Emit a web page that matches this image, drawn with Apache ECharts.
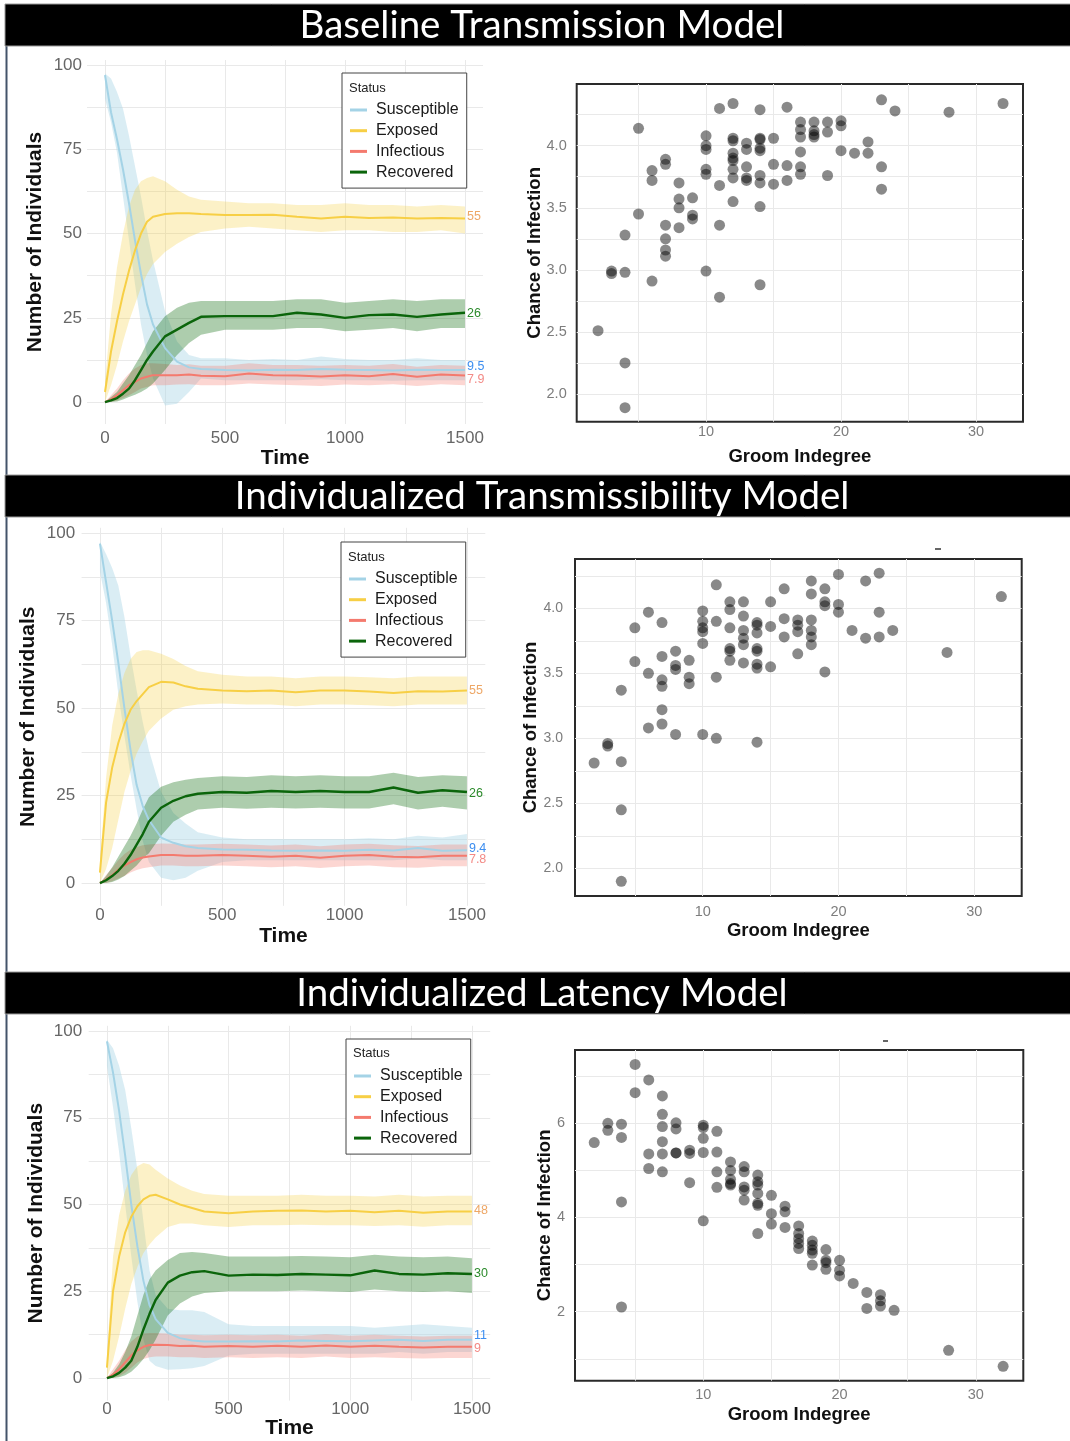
<!DOCTYPE html>
<html>
<head>
<meta charset="utf-8">
<title>Transmission models</title>
<script src="https://cdn.jsdelivr.net/npm/echarts@6/dist/echarts.min.js"></script>
<style>
  html, body { margin: 0; padding: 0; background: #fff; }
  #chart { width: 1070px; height: 1441px; }
</style>
</head>
<body>
<div id="chart"></div>
<script>
// ---- data ----
const modelTitles = ['Baseline Transmission Model', 'Individualized Transmissibility Model', 'Individualized Latency Model'];
const statusNames = ['Susceptible', 'Exposed', 'Infectious', 'Recovered'];

const times = [0, 25, 50, 75, 100, 125, 150, 175, 200, 250, 300, 350, 400, 500, 600, 700, 800, 900, 1000, 1100, 1200, 1300, 1400, 1500];
const timeTicks = [0, 500, 1000, 1500];
const countTicks = [0, 25, 50, 75, 100];

// baseline model
const s1 = [97, 86, 78, 69, 59, 48, 38, 29, 23, 16, 12, 10.3, 9.8, 9.5, 9.4, 9.6, 9.5, 9.8, 9.6, 9.5, 9.4, 9.6, 9.5, 9.5];
const s1Hi = [97.5, 96, 92, 87, 79, 70, 61, 51, 42, 27, 18, 14, 13, 13, 12.5, 12.8, 12.5, 13.5, 12.8, 12.5, 12.5, 13, 12.5, 12.5];
const s1Lo = [90, 83, 74, 61, 48, 35, 23, 14, 7, -1, -0.5, 3, 7, 6.5, 6.5, 6.5, 6.5, 6.8, 6.5, 6.5, 6.3, 6.5, 6.5, 6.5];
const e1 = [3, 15, 24, 32, 39, 45, 50, 53.5, 55, 55.8, 56, 56, 55.8, 55.5, 55.5, 55.6, 55, 54.5, 55, 54.6, 54.8, 54.5, 54.6, 54.5];
const e1Hi = [6, 26, 40, 50, 58, 63, 65.5, 66.5, 67, 65.5, 63, 61, 60, 59.5, 59, 59, 58.5, 58.5, 59, 58.5, 58.5, 58, 58.5, 58];
const e1Lo = [0, 5, 11, 18, 24, 29, 34, 38, 41, 44.5, 47, 49, 50.5, 51.5, 52, 51.5, 51, 50.5, 51, 51, 50.5, 50.5, 51, 50];
const i1 = [0, 0.8, 2, 3.5, 5, 6, 7, 7.5, 8, 8, 8, 8.2, 7.8, 7.7, 8.5, 8, 7.9, 7.6, 8, 7.7, 8.3, 7.5, 8.2, 7.9];
const i1Hi = [0, 2, 4, 6.5, 8.5, 10, 11, 11.5, 11.5, 11.3, 11, 11.2, 10.8, 10.8, 11.5, 11, 11, 10.8, 11, 10.8, 11.3, 10.5, 11, 10.8];
const i1Lo = [0, 0, 0.5, 1.2, 2, 3, 4, 4.5, 5, 5, 5.2, 5.3, 5, 5, 5.5, 5.2, 5, 4.8, 5.2, 5, 5.3, 4.8, 5.3, 5];
const r1 = [0, 0.5, 1.2, 2.5, 4, 6.5, 9.5, 12.5, 15, 19.5, 21.5, 23.5, 25.3, 25.5, 25.5, 25.5, 26.5, 26, 25, 25.8, 26, 25.3, 26, 26.5];
const r1Hi = [0, 1.5, 3, 5.5, 8, 11, 14, 17.5, 21, 25.5, 28, 29.5, 30, 30, 30, 30, 30.5, 30.5, 29.5, 30, 30.5, 30, 30.5, 30.5];
const r1Lo = [0, 0, 0.2, 0.8, 1.5, 2.2, 3, 4, 5.5, 9.5, 14, 17.5, 20, 21.5, 21.5, 21.5, 22, 22, 21, 21.5, 22, 21, 22, 22];
const endText1 = ['9.5', '55', '7.9', '26'];

// individualized transmissibility model
const s2 = [97, 86, 75, 63, 50, 38, 28, 22, 18, 13, 11.5, 10.5, 10, 9.6, 9.5, 9.3, 9.2, 9.3, 9.2, 9.5, 9.3, 10, 9.2, 9.4];
const s2Hi = [97.5, 94, 90, 85, 76, 65, 55, 46, 38, 26, 20, 17, 14.5, 13, 12.5, 12.5, 12.5, 12.5, 12.5, 12.8, 12.5, 13.5, 13, 14];
const s2Lo = [89, 80, 68, 54, 42, 31, 21, 12, 6, 1.5, 0.8, 1.5, 3.5, 6, 6.5, 6.5, 6.5, 6.5, 6.5, 6.5, 6.5, 7, 6.5, 6.5];
const e2 = [3, 23, 33, 40, 45.5, 49.5, 52, 54, 56, 57.5, 57.3, 56.2, 55.5, 55, 54.8, 55, 54.5, 55, 55, 54.7, 54.3, 54.8, 54.7, 55];
const e2Hi = [6, 30, 45, 54, 60, 64, 66, 66.5, 66.5, 65.5, 64, 62, 60.5, 59.5, 59, 59, 58.5, 59, 59, 58.8, 58.5, 59, 59, 59];
const e2Lo = [0, 4, 10, 18, 26, 32, 37, 40.5, 43.5, 47, 49.5, 50.5, 51, 51.3, 51, 51, 50.5, 51, 51, 50.8, 50.5, 51, 51, 51];
const i2 = [0, 1, 2.2, 3.8, 5, 6, 6.8, 7.3, 7.6, 8, 8, 7.8, 7.8, 8, 7.8, 7.5, 7.8, 7.2, 7.8, 8, 7.5, 7.4, 7.8, 7.8];
const i2Hi = [0, 2.3, 4.3, 6.5, 8.3, 9.5, 10.3, 10.8, 11, 11.3, 11.2, 11, 11, 11.2, 11, 10.7, 11, 10.5, 11, 11.2, 10.8, 10.6, 11, 11];
const i2Lo = [0, 0, 0.5, 1.3, 2, 3, 3.7, 4.2, 4.5, 5, 5, 4.8, 4.8, 5, 4.8, 4.5, 4.8, 4.3, 4.8, 5, 4.5, 4.4, 4.8, 4.8];
const r2 = [0, 0.8, 2, 3.5, 5.5, 8, 11, 14, 17.5, 21.5, 23.5, 24.8, 25.5, 26, 25.8, 26.3, 26, 26.3, 26, 26, 27.3, 25.8, 26.5, 26];
const r2Hi = [0, 2, 4.5, 7.5, 10.5, 13.5, 17, 21, 24.5, 27.5, 28.8, 29.5, 30, 30.5, 30.3, 30.8, 30.5, 30.8, 30.5, 30.5, 31.5, 30.3, 30.8, 30.5];
const r2Lo = [0, 0, 0.3, 1, 2, 3.5, 5, 7, 8.5, 13.5, 17.5, 19.5, 21, 21.5, 21.2, 21.5, 21.3, 21.5, 21.3, 21.3, 22.5, 21, 21.8, 21];
const endText2 = ['9.4', '55', '7.8', '26'];

// individualized latency model
const s3 = [97, 88, 77, 64, 50, 38, 28, 21, 17, 13, 11.5, 10.8, 10.5, 10.5, 10.6, 10.5, 10.8, 10.7, 10.6, 10.8, 11, 10.7, 11, 11];
const s3Hi = [97.5, 95, 90, 83, 72, 60, 45, 31, 24, 20, 19.5, 19.5, 19, 15.5, 15, 15, 15, 15, 15, 14.5, 15, 15.5, 15, 14.5];
const s3Lo = [90, 78, 65, 50, 35, 22, 11, 5, 3.5, 2.4, 2.5, 2.8, 3.5, 6.5, 7, 7, 7, 7, 7, 7, 7.5, 7, 7.5, 7.5];
const e3 = [3, 25, 35, 42, 46.5, 49.5, 51.5, 52.5, 52.8, 51.5, 50, 49, 48, 47.5, 48, 48.2, 48.3, 48, 48.2, 47.8, 48.2, 47.6, 48, 48];
const e3Hi = [6, 35, 47, 54, 58.5, 61, 62, 61.5, 60, 57.5, 55.5, 54, 53, 52.5, 52.5, 52.5, 52.8, 52.5, 52.5, 52.3, 52.8, 52.3, 52.5, 52.5];
const e3Lo = [0, 5, 12, 20, 27, 32, 36, 38.5, 40.5, 43.5, 44.5, 44.5, 44, 43.5, 44, 44, 44.2, 44, 44, 43.8, 44, 43.6, 44, 44];
const i3 = [0, 1, 2.5, 4.5, 6.5, 8, 9, 9.5, 9.6, 9.5, 9.2, 9.3, 9, 9.2, 9, 9.3, 9, 9.4, 9, 9.3, 9, 8.8, 9, 9];
const i3Hi = [0, 2.5, 5, 8, 10.5, 12, 12.8, 13, 13, 12.8, 12.5, 12.5, 12.3, 12.5, 12.3, 12.5, 12.2, 12.6, 12.2, 12.5, 12.2, 12, 12.2, 12.2];
const i3Lo = [0, 0, 0.5, 1.5, 3, 4.5, 5.5, 6, 6.2, 6.2, 6, 6, 5.8, 6, 5.8, 6, 5.8, 6.2, 5.8, 6, 5.8, 5.6, 5.8, 5.8];
const r3 = [0, 0.5, 1.5, 3, 5, 9, 14, 18.5, 22.5, 27.5, 29.5, 30.5, 30.8, 29.5, 29.8, 29.7, 30, 29.8, 29.6, 31, 30, 29.8, 30.2, 30];
const r3Hi = [0, 1.5, 4, 7.5, 12, 18, 24, 28.5, 31, 34, 36, 36.3, 36, 35, 35, 35, 35.2, 35, 34.8, 35.5, 35, 34.8, 35, 34.5];
const r3Lo = [0, 0, 0.2, 0.8, 1.8, 3.5, 5.5, 8, 11, 18, 21.5, 23.5, 24.5, 25, 25, 25, 25.2, 25, 24.8, 25.5, 25, 24.8, 25, 24.5];
const endText3 = ['11', '48', '9', '30'];

// groom indegree vs chance of infection
const groom1 = [2, 4, 4, 3, 3, 4, 4, 5, 5, 6, 6, 6, 7, 7, 7, 7, 7, 7, 8, 8, 8, 8, 9, 9, 9, 10, 10, 10, 10, 10, 10, 11, 11, 11, 11, 12, 12, 12, 12, 12, 12, 12, 12, 12, 13, 13, 13, 13, 13, 14, 14, 14, 14, 14, 14, 14, 14, 14, 15, 15, 15, 16, 16, 16, 17, 17, 17, 17, 17, 17, 18, 18, 18, 18, 19, 19, 19, 20, 20, 20, 21, 22, 22, 23, 23, 23, 24, 28, 32];
const chance1 = [2.51, 2.25, 1.89, 2.97, 2.99, 3.28, 2.98, 4.14, 3.45, 3.80, 3.72, 2.91, 3.89, 3.85, 3.36, 3.25, 3.16, 3.11, 3.70, 3.57, 3.50, 3.34, 3.58, 3.44, 3.41, 4.08, 4.00, 3.97, 3.81, 3.77, 2.99, 4.30, 3.68, 3.36, 2.78, 4.34, 4.06, 4.04, 3.94, 3.90, 3.88, 3.81, 3.74, 3.55, 4.02, 3.97, 3.83, 3.74, 3.72, 4.29, 4.06, 4.05, 3.98, 3.96, 3.76, 3.70, 3.51, 2.88, 4.06, 3.85, 3.69, 4.31, 3.84, 3.72, 4.19, 4.13, 4.07, 3.95, 3.83, 3.77, 4.19, 4.12, 4.09, 4.07, 4.19, 4.11, 3.76, 4.20, 4.16, 3.96, 3.94, 4.03, 3.94, 4.37, 3.83, 3.65, 4.28, 4.27, 4.34];
const groom2 = [2, 3, 3, 4, 4, 4, 4, 5, 5, 6, 6, 6, 7, 7, 7, 7, 7, 7, 8, 8, 8, 8, 9, 9, 9, 10, 10, 10, 10, 10, 10, 11, 11, 11, 11, 12, 12, 12, 12, 12, 12, 13, 13, 13, 13, 13, 13, 14, 14, 14, 14, 14, 14, 14, 14, 15, 15, 15, 16, 16, 16, 17, 17, 17, 17, 18, 18, 18, 18, 18, 18, 19, 19, 19, 19, 20, 20, 20, 21, 22, 22, 23, 23, 23, 24, 28, 32];
const chance2 = [2.81, 2.96, 2.94, 2.82, 2.45, 1.90, 3.37, 3.85, 3.59, 3.97, 3.50, 3.08, 3.89, 3.63, 3.45, 3.40, 3.22, 3.11, 3.67, 3.56, 3.53, 3.03, 3.60, 3.47, 3.42, 3.98, 3.90, 3.85, 3.82, 3.73, 3.03, 4.18, 3.90, 3.47, 3.00, 4.05, 3.99, 3.85, 3.69, 3.67, 3.60, 4.05, 3.94, 3.83, 3.77, 3.72, 3.58, 3.89, 3.87, 3.81, 3.69, 3.67, 3.57, 3.54, 2.97, 4.05, 3.86, 3.55, 4.15, 3.92, 3.78, 3.91, 3.87, 3.82, 3.65, 4.21, 4.11, 3.91, 3.83, 3.78, 3.72, 4.15, 4.05, 4.02, 3.51, 4.26, 4.03, 3.97, 3.83, 4.21, 3.77, 4.27, 3.97, 3.78, 3.83, 3.66, 4.09];
const groom3 = [2, 3, 3, 4, 4, 4, 4, 5, 5, 6, 6, 6, 7, 7, 7, 7, 7, 7, 8, 8, 8, 8, 9, 9, 9, 10, 10, 10, 10, 10, 11, 11, 11, 11, 12, 12, 12, 12, 12, 13, 13, 13, 13, 13, 14, 14, 14, 14, 14, 14, 14, 15, 15, 15, 16, 16, 16, 17, 17, 17, 17, 17, 18, 18, 18, 18, 18, 19, 19, 19, 19, 20, 20, 20, 21, 22, 22, 23, 23, 23, 24, 28, 32];
const chance3 = [5.59, 6.00, 5.85, 5.98, 5.70, 4.33, 2.10, 7.25, 6.65, 6.92, 5.35, 5.04, 6.58, 6.19, 5.93, 5.61, 5.35, 4.97, 6.01, 5.88, 5.37, 5.37, 5.43, 5.36, 4.74, 5.96, 5.91, 5.68, 5.38, 3.93, 5.83, 5.39, 4.97, 4.64, 5.18, 5.00, 4.81, 4.72, 4.69, 5.08, 4.97, 4.65, 4.58, 4.37, 4.90, 4.76, 4.69, 4.51, 4.30, 4.26, 3.66, 4.47, 4.08, 3.86, 4.24, 4.12, 3.79, 3.82, 3.66, 3.55, 3.45, 3.34, 3.50, 3.41, 3.31, 3.24, 2.99, 3.32, 3.09, 3.04, 2.90, 3.09, 2.88, 2.76, 2.60, 2.41, 2.07, 2.36, 2.23, 2.12, 2.03, 1.18, 0.84];
const groomTicks = [10, 20, 30];
const groomGrid = [5, 10, 15, 20, 25, 30];
const chanceTicks12 = [2.0, 2.5, 3.0, 3.5, 4.0];
const chanceGrid12 = [2.0, 2.25, 2.5, 2.75, 3.0, 3.25, 3.5, 3.75, 4.0, 4.25];
const chanceTicks3 = [2, 4, 6];
const chanceGrid3 = [1, 2, 3, 4, 5, 6, 7];

// ---- styling / layout ----
const lineColors = ['#a4d3e6', '#f7cf45', '#f47a6e', '#0b650b'];
const bandColors = ['rgba(173,216,230,0.45)', 'rgba(246,207,69,0.3)', 'rgba(244,118,107,0.3)', 'rgba(0,100,0,0.32)'];
const endColors = ['#3d8ef0', '#eea766', '#f38a86', '#2b8a2b'];
const axisFont = "'Liberation Sans', Arial, sans-serif";

const timeRows = [
  { left: 87, top: 60, width: 396, height: 364, yMin: -6.5, yMax: 101.5, xLabMargin: 6, yLabMargin: 5, xNameGap: 24, yNameGap: 41,
    legend: [342, 73], status: [349, 88], endDy: [-4, -2, 4, 1] },
  { left: 81.6, top: 527.8, width: 403.7, height: 378, yMin: -6.5, yMax: 101.5, xLabMargin: 1, yLabMargin: 6.5, xNameGap: 20, yNameGap: 43,
    legend: [341, 542], status: [348, 557], endDy: [-2, 0, 4, 1] },
  { left: 88.7, top: 1025.8, width: 401.5, height: 374.8, yMin: -6.5, yMax: 101.5, xLabMargin: 0, yLabMargin: 6.5, xNameGap: 17, yNameGap: 42,
    legend: [346, 1039], status: [353, 1053], endDy: [-4, -1, 2, 0] }
];
const scatterRows = [
  { left: 576.7, top: 84, width: 446.3, height: 337.7, xMin: 0.42, xMax: 33.48, yMin: 1.777, yMax: 4.497, xLabMargin: 3, yLabMargin: 10, yLabSize: 14.5, xNameGap: 26, yNameGap: 32.5 },
  { left: 575, top: 559, width: 446.7, height: 337, xMin: 0.59, xMax: 33.5, yMin: 1.787, yMax: 4.379, xLabMargin: 8, yLabMargin: 12, yLabSize: 14, xNameGap: 25, yNameGap: 35 },
  { left: 575, top: 1050, width: 448.3, height: 330.7, xMin: 0.59, xMax: 33.48, yMin: 0.535, yMax: 7.556, xLabMargin: 7, yLabMargin: 10, yLabSize: 14.5, xNameGap: 25, yNameGap: 21 }
];
const titleBars = [4, 475, 972];
const strayMarks = [[935, 549, 941], [883, 1041, 888]];

const timeData = [
  { mean: [s1, e1, i1, r1], lo: [s1Lo, e1Lo, i1Lo, r1Lo], hi: [s1Hi, e1Hi, i1Hi, r1Hi], ends: endText1 },
  { mean: [s2, e2, i2, r2], lo: [s2Lo, e2Lo, i2Lo, r2Lo], hi: [s2Hi, e2Hi, i2Hi, r2Hi], ends: endText2 },
  { mean: [s3, e3, i3, r3], lo: [s3Lo, e3Lo, i3Lo, r3Lo], hi: [s3Hi, e3Hi, i3Hi, r3Hi], ends: endText3 }
];
const scatterData = [
  { x: groom1, y: chance1, ticks: chanceTicks12, grid: chanceGrid12, digits: 1 },
  { x: groom2, y: chance2, ticks: chanceTicks12, grid: chanceGrid12, digits: 1 },
  { x: groom3, y: chance3, ticks: chanceTicks3, grid: chanceGrid3, digits: 0 }
];

const grids = [];
const xAxes = [];
const yAxes = [];
const series = [];
const legends = [];
const graphics = [];

function axis(gridIndex, min, max, labelVals, gridVals, o) {
  return {
    type: 'value', gridIndex, min, max,
    name: o.name, nameLocation: 'middle', nameGap: o.nameGap, nameMoveOverlap: false,
    nameTextStyle: { fontFamily: axisFont, fontWeight: 'bold', fontSize: o.nameSize, color: '#111' },
    axisLine: { show: false },
    axisTick: { show: false, customValues: gridVals },
    axisLabel: {
      customValues: labelVals, margin: o.margin, color: o.labelColor,
      fontFamily: axisFont, fontSize: o.labelSize,
      formatter: o.formatter || (v => String(v))
    },
    splitLine: { show: true, lineStyle: { color: '#e9e9e9', width: 1 } }
  };
}

// time series panels
timeRows.forEach((row, r) => {
  const g = grids.length;
  grids.push({ left: row.left, top: row.top, width: row.width, height: row.height, containLabel: false });
  xAxes.push(axis(g, -75, 1575, timeTicks, [0, 250, 500, 750, 1000, 1250, 1500],
    { name: 'Time', nameGap: row.xNameGap, nameSize: 21, margin: row.xLabMargin, labelColor: '#666', labelSize: 17 }));
  yAxes.push(axis(g, row.yMin, row.yMax, countTicks, [0, 12.5, 25, 37.5, 50, 62.5, 75, 87.5, 100],
    { name: 'Number of Individuals', nameGap: row.yNameGap, nameSize: 21, margin: row.yLabMargin, labelColor: '#666', labelSize: 17 }));
  const d = timeData[r];
  // ribbons: polygon from upper edge forward, lower edge back
  statusNames.forEach((nm, k) => {
    series.push({
      type: 'custom', name: nm + ' band', xAxisIndex: g, yAxisIndex: g, silent: true, z: 1, clip: true,
      data: [[0, 0]],
      renderItem: (params, api) => {
        const pts = times.map((t, j) => api.coord([t, d.hi[k][j]]));
        for (let j = times.length - 1; j >= 0; j--) pts.push(api.coord([times[j], d.lo[k][j]]));
        return { type: 'polygon', shape: { points: pts }, style: { fill: bandColors[k] } };
      }
    });
  });
  statusNames.forEach((nm, k) => {
    series.push({
      type: 'line', name: nm, xAxisIndex: g, yAxisIndex: g, symbol: 'none', z: 3,
      color: lineColors[k],
      lineStyle: { color: lineColors[k], width: k === 3 ? 2.4 : 2 },
      endLabel: { show: true, formatter: d.ends[k], color: endColors[k], fontSize: 12.5, fontFamily: axisFont,
        distance: 2, offset: [0, row.endDy[k]] },
      data: times.map((t, j) => [t, d.mean[k][j]])
    });
  });
  legends.push({
    data: statusNames, orient: 'vertical', left: row.legend[0], top: row.legend[1],
    icon: 'rect', itemWidth: 17, itemHeight: 3, itemGap: 4.7, selectedMode: false,
    padding: [29, 8, 8, 8], borderColor: '#444', borderWidth: 1, backgroundColor: '#fff',
    textStyle: { fontFamily: axisFont, fontSize: 16, lineHeight: 16, color: '#1a1a1a', padding: [0, 0, 0, 4] }
  });
  graphics.push({ type: 'text', z: 100, style: { text: 'Status', x: row.status[0], y: row.status[1],
    fontFamily: axisFont, fontSize: 13, fill: '#222', align: 'left', verticalAlign: 'middle' } });
});

// scatter panels
scatterRows.forEach((row, r) => {
  const g = grids.length;
  const d = scatterData[r];
  grids.push({ left: row.left, top: row.top, width: row.width, height: row.height, show: true,
    borderColor: '#2a2a2a', borderWidth: 2, backgroundColor: 'transparent' });
  xAxes.push(axis(g, row.xMin, row.xMax, groomTicks, groomGrid,
    { name: 'Groom Indegree', nameGap: row.xNameGap, nameSize: 18.5, margin: row.xLabMargin, labelColor: '#7d7d7d', labelSize: 14.5 }));
  yAxes.push(axis(g, row.yMin, row.yMax, d.ticks, d.grid,
    { name: 'Chance of Infection', nameGap: row.yNameGap, nameSize: 18.5, margin: row.yLabMargin, labelColor: '#7d7d7d', labelSize: row.yLabSize,
      formatter: v => v.toFixed(d.digits) }));
  series.push({
    type: 'scatter', name: 'indegree' + r, xAxisIndex: g, yAxisIndex: g, symbolSize: 11, silent: true,
    itemStyle: { color: 'rgba(0,0,0,0.58)', borderWidth: 0 },
    data: d.x.map((v, i) => [v, d.y[i]])
  });
});

// title bars and frame
graphics.push({ type: 'line', z: 50, shape: { x1: 6.5, y1: 4, x2: 6.5, y2: 1441 }, style: { stroke: '#44546a', lineWidth: 2 } });
titleBars.forEach((y, i) => {
  graphics.push({ type: 'rect', z: 60, shape: { x: 5, y: y, width: 1070, height: 42 },
    style: { fill: '#000', stroke: '#9a9a9a', lineWidth: 1 } });
  graphics.push({ type: 'text', z: 61, style: { text: modelTitles[i], x: 542, y: y + 21.5,
    fontFamily: 'Lato, sans-serif', fontSize: 38.5, fill: '#fff', align: 'center', verticalAlign: 'middle' } });
});
strayMarks.forEach(m => {
  graphics.push({ type: 'line', z: 50, shape: { x1: m[0], y1: m[1], x2: m[2], y2: m[1] }, style: { stroke: '#333', lineWidth: 1.5 } });
});

const chart = echarts.init(document.getElementById('chart'));
chart.setOption({
  animation: false,
  backgroundColor: '#fff',
  grid: grids,
  xAxis: xAxes,
  yAxis: yAxes,
  legend: legends,
  series: series,
  graphic: graphics
});
window.addEventListener('resize', () => chart.resize());
</script>
</body>
</html>
